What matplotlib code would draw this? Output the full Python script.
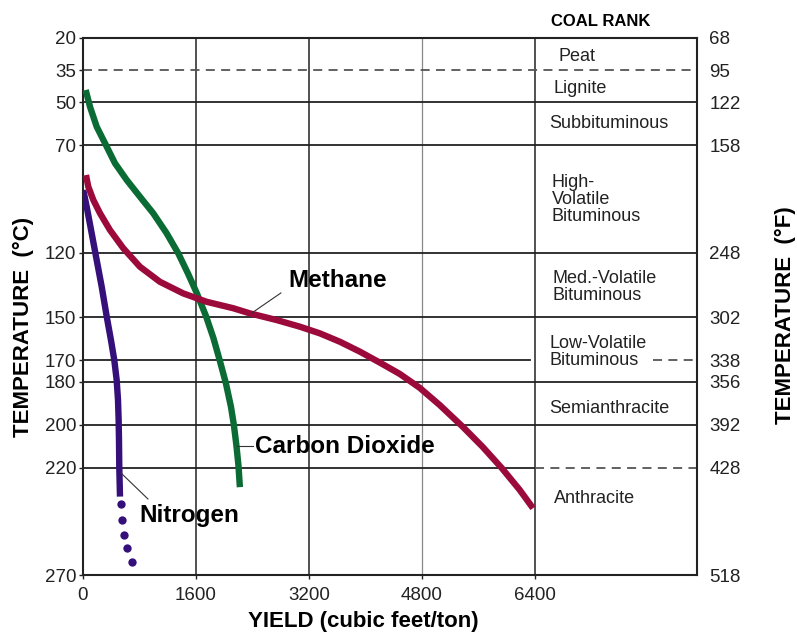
import matplotlib.pyplot as plt

plt.rcParams['font.family'] = ['Liberation Sans', 'DejaVu Sans']

# temperature scale (deg C on the left, deg F on the right)
temps_c = [20, 35, 50, 70, 120, 150, 170, 180, 200, 220, 270]
temps_f = [68, 95, 122, 158, 248, 302, 338, 356, 392, 428, 518]
yield_ticks = [0, 1600, 3200, 4800, 6400]

# gas yield curves: yield (cubic feet/ton) vs temperature (C)
co2_yield = [38, 99, 194, 312, 453, 619, 807, 995, 1185, 1349, 1487, 1614,
             1742, 1848, 1940, 2025, 2096, 2138, 2173, 2202, 2223]
co2_temp = [44.2, 52.0, 61.3, 69.0, 78.3, 86.1, 93.9, 101.6, 110.9, 120.2, 129.6,
            138.9, 149.4, 159.7, 170.4, 180.8, 191.6, 200.2, 209.5, 218.8, 229.1]

ch4_yield = [42, 75, 146, 241, 382, 571, 807, 1090, 1420, 1751, 2128, 2365, 2743,
             3073, 3356, 3639, 3922, 4205, 4489, 4772, 5055, 5381, 5664, 5933,
             6188, 6376]
ch4_temp = [83.8, 89.2, 95.4, 101.6, 109.4, 117.9, 126.5, 133.5, 138.9, 142.8,
            145.8, 148.2, 151.3, 154.4, 157.5, 161.4, 166.0, 171.1, 176.4, 182.9,
            190.9, 201.0, 210.4, 220.2, 230.4, 238.9]

n2_yield = [4, 52, 123, 194, 265, 336, 396, 443, 477, 496, 505, 510, 514, 524]
n2_temp = [90.8, 98.5, 110.9, 123.4, 135.8, 149.7, 160.6, 169.9, 179.2, 188.5,
           197.8, 207.2, 219.6, 233.5]
# extrapolated part of the nitrogen curve (dotted)
n2_ext_yield = [538, 552, 581, 623, 694]
n2_ext_temp = [236.9, 244.4, 251.4, 257.4, 264.0]

ranks = ["Peat", "Lignite", "Subbituminous", "High-\nVolatile\nBituminous",
         "Med.-Volatile\nBituminous", "Low-Volatile\nBituminous",
         "Semianthracite", "Anthracite"]
rank_label_temp = [28.4, 43.3, 59.6, 95.4, 135.9, 166.0, 192.3, 234.6]
rank_label_x = [6740, 6670, 6600, 6640, 6655, 6610, 6600, 6680]

GREEN = '#0b6b34'
RED = '#9c0a3c'
PURPLE = '#35107a'

fig = plt.figure(figsize=(7.97, 6.34), dpi=100)
ax = fig.add_axes([83 / 797, 1 - 575 / 634, 614 / 797, 537 / 634])
ax.set_xlim(0, 8700)
ax.set_ylim(270, 20)

# grid: vertical yield lines
for x in yield_ticks[1:]:
    light = x == 4800
    ax.axvline(x, color='#888888' if light else '#333333',
               lw=0.9 if light else 1.2, zorder=1)

# grid: horizontal temperature lines (coal rank boundaries)
line_kw = dict(color='#222222', lw=1.3, zorder=1)
dash_kw = dict(color='#555555', lw=1.3, ls=(0, (5, 3.5)), zorder=1)
for t in [50, 70, 120, 150, 180, 200]:
    ax.axhline(t, **line_kw)
ax.axhline(35, **dash_kw)
ax.plot([0, 6330], [170, 170], **line_kw)
ax.plot([8080, 8700], [170, 170], **dash_kw)
ax.plot([0, 6400], [220, 220], **line_kw)
ax.plot([6400, 8700], [220, 220], **dash_kw)

# curves
curve_kw = dict(lw=4.6, solid_capstyle='butt', solid_joinstyle='round')
ax.plot(co2_yield, co2_temp, color=GREEN, zorder=3, **curve_kw)
ax.plot(ch4_yield, ch4_temp, color=RED, zorder=4, **curve_kw)
ax.plot(n2_yield, n2_temp, color=PURPLE, zorder=3, **curve_kw)
ax.plot(n2_ext_yield, n2_ext_temp, ls='none', marker='o', ms=6,
        color=PURPLE, mec='none', zorder=3)

# curve labels with leader lines
lab_kw = dict(fontsize=17.5, fontweight='bold', va='center', ha='left', zorder=5)
ax.plot([2393, 2804], [148.0, 138.7], color='#333333', lw=0.8, zorder=5)
ax.text(2903, 132.7, "Methane", **lab_kw)
ax.plot([2181, 2407], [210.0, 210.0], color='#333333', lw=0.8, zorder=5)
ax.text(2436, 210.4, "Carbon Dioxide", **lab_kw)
ax.plot([538, 920], [222.5, 234.6], color='#333333', lw=0.8, zorder=5)
ax.text(793, 242.5, "Nitrogen", **lab_kw)

# coal rank names
for name, t, x in zip(ranks, rank_label_temp, rank_label_x):
    ax.text(x, t, name, fontsize=13, va='center', ha='left',
            linespacing=1.0, color='#222222', zorder=5)

ax.set_xticks(yield_ticks)
ax.set_xticklabels([str(v) for v in yield_ticks])
ax.set_yticks(temps_c)
ax.set_yticklabels([str(v) for v in temps_c])
ax.tick_params(axis='both', length=3, width=1, labelsize=13.5, colors='#222222')
ax.tick_params(axis='x', pad=6)
ax.tick_params(axis='y', pad=2)
for s in ax.spines.values():
    s.set_linewidth(1.5)
    s.set_color('#222222')

ax2 = ax.twinx()
ax2.set_ylim(270, 20)
ax2.set_yticks(temps_c)
ax2.set_yticklabels([str(v) for v in temps_f])
ax2.tick_params(axis='y', length=0, pad=9, labelsize=13.5, colors='#222222')
for s in ax2.spines.values():
    s.set_visible(False)

fig.text(23 / 797, 1 - 327 / 634, "TEMPERATURE  (°C)", rotation=90,
         fontsize=16, fontweight='bold', ha='center', va='center')
fig.text(785 / 797, 1 - 315 / 634, "TEMPERATURE  (°F)", rotation=90,
         fontsize=16, fontweight='bold', ha='center', va='center')
fig.text(363 / 797, 1 - 621 / 634, "YIELD (cubic feet/ton)",
         fontsize=16, fontweight='bold', ha='center', va='center')
fig.text(601 / 797, 1 - 21 / 634, "COAL RANK",
         fontsize=12, fontweight='bold', ha='center', va='center')

fig.savefig('out.png', dpi=100)
